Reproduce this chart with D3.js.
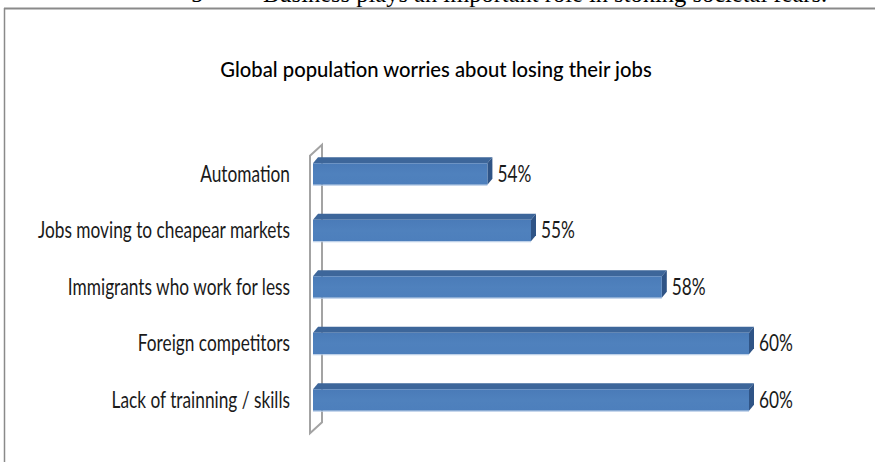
<!DOCTYPE html>
<html>
<head>
<meta charset="utf-8">
<script src="https://cdn.jsdelivr.net/npm/d3@7"></script>
<style>
  html, body { margin: 0; padding: 0; background: #fff; }
  svg { display: block; }
</style>
</head>
<body>
<svg id="chart" width="875" height="462"></svg>
<script>
// Survey results: share of people worried about losing their jobs, by cause
const categories = [
  "Automation",
  "Jobs moving to cheapear markets",
  "Immigrants who work for less",
  "Foreign competitors",
  "Lack of trainning / skills"
];
const values = [54, 55, 58, 60, 60];
const valueLabels = ["54%", "55%", "58%", "60%", "60%"];
const axisDomain = [50, 62];

const chartTitle = "Global population worries about losing their jobs";
const headingNumber = "5";
const headingText = "Business plays an important role in stoking societal fears.";

const svg = d3.select("#chart");
const W = 875, H = 462;

svg.append("rect").attr("width", W).attr("height", H).attr("fill", "#fff");

// Condensed sans text helper (horizontal squeeze)
function condensed(sel, x, y, anchor, sx) {
  return sel.attr("transform", `translate(${x},${y}) scale(${sx},1)`)
    .attr("text-anchor", anchor)
    .attr("font-family", "Lato, 'Open Sans', sans-serif");
}

// Running heading of the document page, cut by the top edge
const serif = "'Liberation Serif', 'Times New Roman', serif";
svg.append("text")
  .attr("x", 191).attr("y", 2)
  .attr("font-family", serif).attr("font-size", 24.5).attr("fill", "#000")
  .text(headingNumber);
svg.append("text")
  .attr("x", 263).attr("y", 2)
  .attr("font-family", serif).attr("font-size", 24.5).attr("fill", "#000")
  .text(headingText);

// Chart frame
svg.append("line").attr("x1", 4).attr("x2", W).attr("y1", 8.5).attr("y2", 8.5)
  .attr("stroke", "#8a8a8a").attr("stroke-width", 2);
svg.append("line").attr("x1", 4.5).attr("x2", 4.5).attr("y1", 8).attr("y2", H)
  .attr("stroke", "#8a8a8a").attr("stroke-width", 1.5);

// Title
condensed(svg.append("text"), 436, 77, "middle", 0.92)
  .attr("font-size", 22)
  .attr("font-weight", 500)
  .attr("fill", "#000")
  .text(chartTitle);

// Scales
const x = d3.scaleLinear().domain(axisDomain).range([313, 836.2]);
const y = d3.scaleBand().domain(categories)
  .range([145.75, 428.25])
  .paddingInner(0.62).paddingOuter(0.31);

// 3D depth of the bars and of the axis wall
const dx = 5, dy = 6;
const wdx = 12, wdy = 11;

// Axis wall (thin 3D plane at the category axis)
const [yr0, yr1] = y.range();
const wx = x(axisDomain[0]) - 3;
const wall = [
  [wx, yr0 - 1 + wdy], [wx + wdx, yr0 - 1],
  [wx + wdx, yr1 - 6], [wx, yr1 - 6 + wdy]
];
svg.append("path")
  .attr("d", d3.line()(wall) + "Z")
  .attr("fill", "none")
  .attr("stroke", "#a3a3a3")
  .attr("stroke-width", 2)
  .attr("stroke-linejoin", "miter");

// Front face gradient
const defs = svg.append("defs");
const grad = defs.append("linearGradient").attr("id", "front")
  .attr("x1", 0).attr("x2", 0).attr("y1", 0).attr("y2", 1);
grad.append("stop").attr("offset", "0%").attr("stop-color", "#4a7bb8");
grad.append("stop").attr("offset", "50%").attr("stop-color", "#4f81bd");
grad.append("stop").attr("offset", "100%").attr("stop-color", "#4d7fbc");

const bars = svg.append("g").selectAll("g")
  .data(categories.map((c, i) => ({ c, v: values[i], label: valueLabels[i] })))
  .join("g");

bars.each(function(d) {
  const g = d3.select(this);
  const x0 = x(axisDomain[0]), x1 = x(d.v);
  const y0 = y(d.c), y1 = y(d.c) + y.bandwidth();
  // top face
  g.append("path")
    .attr("d", d3.line()([[x0, y0], [x0 + dx, y0 - dy], [x1 + dx, y0 - dy], [x1, y0]]) + "Z")
    .attr("fill", "#3d669a");
  // right face
  g.append("path")
    .attr("d", d3.line()([[x1, y0], [x1 + dx, y0 - dy], [x1 + dx, y1 - dy], [x1, y1]]) + "Z")
    .attr("fill", "#2f5486");
  // front face
  g.append("rect")
    .attr("x", x0).attr("y", y0)
    .attr("width", x1 - x0).attr("height", y1 - y0)
    .attr("fill", "url(#front)");
  // lower highlight edge
  g.append("line")
    .attr("x1", x0).attr("x2", x1).attr("y1", y1 + 0.5).attr("y2", y1 + 0.5)
    .attr("stroke", "#b4cae6").attr("stroke-width", 1.2);
  // value label
  condensed(g.append("text"), x1 + dx + 5, (y0 + y1) / 2 - 2, "start", 0.72)
    .attr("dominant-baseline", "central")
    .attr("font-size", 24)
    .attr("fill", "#1a1a1a")
    .text(d.label);
});

// Category labels
svg.append("g").selectAll("text")
  .data(categories)
  .join("text")
  .each(function(d) {
    condensed(d3.select(this), 290, y(d) + y.bandwidth() / 2 - 2, "end", 0.72)
      .attr("dominant-baseline", "central")
      .attr("font-size", 24)
      .attr("fill", "#1a1a1a")
      .text(d);
  });
</script>
</body>
</html>
